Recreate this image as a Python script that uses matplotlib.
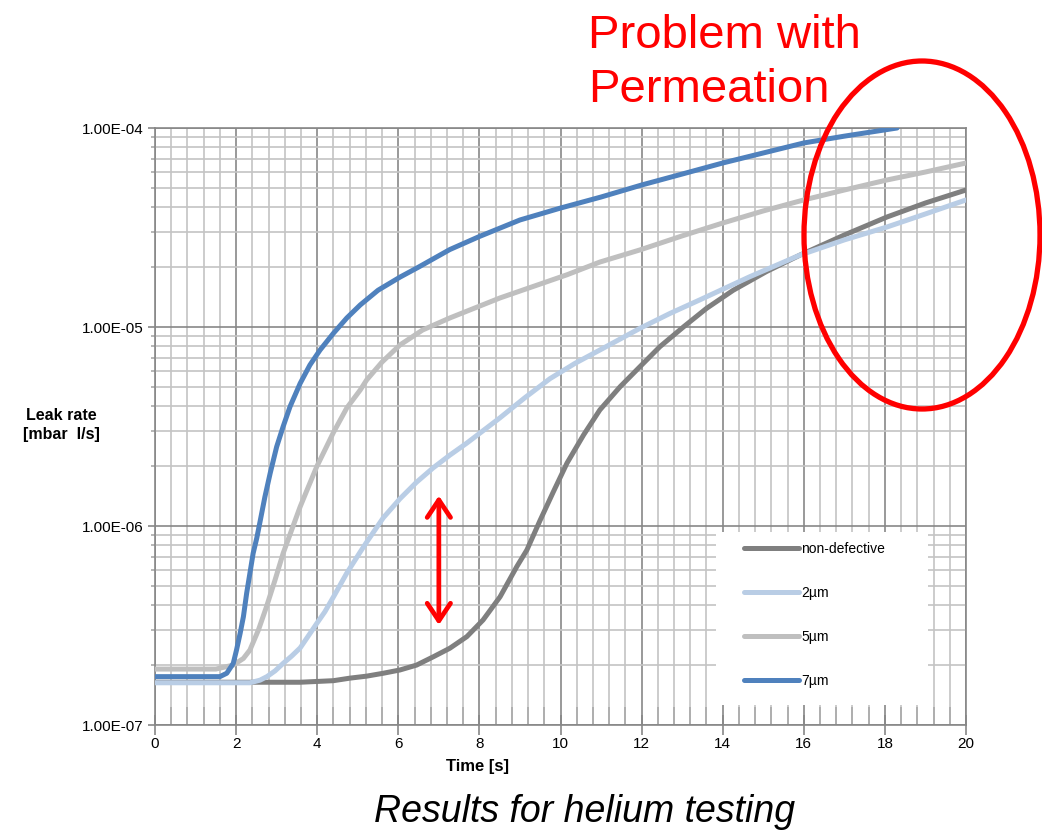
import matplotlib
matplotlib.use("Agg")
import matplotlib.pyplot as plt
from matplotlib.ticker import MultipleLocator, LogLocator, FuncFormatter, NullFormatter
from matplotlib.patches import Ellipse, Rectangle

plt.rcParams['font.family'] = ['Liberation Sans', 'DejaVu Sans']

# ---- data ----
x_nondef = [0, 2, 3.58, 4.40, 4.81, 5.22, 5.63, 6.04, 6.45, 6.86, 7.27, 7.69, 8.09, 8.51,
            8.92, 9.17, 9.49, 9.82, 10.16, 10.57, 10.97, 11.47, 11.96, 12.45, 13.03, 13.6,
            14.26, 15.08, 15.91, 17.0, 18.05, 19.0, 20]
y_nondef = [1.64e-7, 1.64e-7, 1.64e-7, 1.67e-7, 1.72e-7, 1.76e-7, 1.82e-7, 1.89e-7, 2.00e-7,
            2.20e-7, 2.43e-7, 2.78e-7, 3.37e-7, 4.41e-7, 6.24e-7, 7.57e-7, 1.06e-6, 1.48e-6,
            2.07e-6, 2.87e-6, 3.83e-6, 5.01e-6, 6.32e-6, 7.96e-6, 1.00e-5, 1.24e-5, 1.53e-5,
            1.90e-5, 2.30e-5, 2.90e-5, 3.57e-5, 4.20e-5, 4.88e-5]

x_2um = [0, 2.34, 2.59, 2.76, 2.96, 3.16, 3.37, 3.58, 3.78, 3.99, 4.19, 4.40, 4.73, 5.06,
         5.22, 5.63, 6.04, 6.45, 6.86, 7.27, 7.69, 8.51, 9.12, 9.74, 10.36, 10.97, 11.96,
         12.7, 13.44, 14.67, 15.91, 17.0, 18.05, 19.0, 20]
y_2um = [1.63e-7, 1.63e-7, 1.68e-7, 1.75e-7, 1.87e-7, 2.04e-7, 2.22e-7, 2.44e-7, 2.80e-7,
         3.24e-7, 3.71e-7, 4.40e-7, 5.80e-7, 7.40e-7, 8.30e-7, 1.10e-6, 1.37e-6, 1.66e-6,
         1.96e-6, 2.27e-6, 2.61e-6, 3.50e-6, 4.41e-6, 5.50e-6, 6.57e-6, 7.66e-6, 9.85e-6,
         1.17e-5, 1.37e-5, 1.79e-5, 2.30e-5, 2.74e-5, 3.18e-5, 3.70e-5, 4.35e-5]

x_5um = [0, 1.5, 1.93, 2.18, 2.34, 2.55, 2.75, 2.96, 3.16, 3.37, 3.58, 3.78, 3.99, 4.19,
         4.40, 4.73, 5.06, 5.22, 5.6, 6.04, 6.6, 7.27, 8.51, 10.16, 10.97, 11.96, 13.0,
         14.0, 15.0, 16.0, 17.0, 18.05, 19.0, 20]
y_5um = [1.91e-7, 1.91e-7, 2.00e-7, 2.16e-7, 2.38e-7, 3.00e-7, 3.93e-7, 5.35e-7, 7.29e-7,
         9.55e-7, 1.25e-6, 1.57e-6, 1.99e-6, 2.41e-6, 2.95e-6, 3.92e-6, 4.82e-6, 5.42e-6,
         6.67e-6, 8.12e-6, 9.66e-6, 1.11e-5, 1.40e-5, 1.83e-5, 2.12e-5, 2.44e-5, 2.87e-5,
         3.33e-5, 3.83e-5, 4.35e-5, 4.88e-5, 5.48e-5, 6.01e-5, 6.67e-5]

x_7um = [0, 1.60, 1.77, 1.93, 2.01, 2.10, 2.18, 2.26, 2.34, 2.42, 2.51, 2.59, 2.71, 2.84,
         3.00, 3.16, 3.33, 3.58, 3.82, 4.07, 4.40, 4.73, 5.06, 5.5, 6.04, 6.5, 7.27, 8.0,
         9.0, 10.0, 11.0, 12.0, 13.0, 14.0, 15.0, 16.0, 17.0, 18.3]
y_7um = [1.75e-7, 1.75e-7, 1.82e-7, 2.04e-7, 2.38e-7, 2.89e-7, 3.50e-7, 4.59e-7, 5.78e-7,
         7.29e-7, 8.70e-7, 1.05e-6, 1.40e-6, 1.84e-6, 2.50e-6, 3.16e-6, 3.98e-6, 5.21e-6,
         6.44e-6, 7.66e-6, 9.30e-6, 1.11e-5, 1.29e-5, 1.53e-5, 1.78e-5, 2.00e-5, 2.45e-5,
         2.85e-5, 3.45e-5, 3.96e-5, 4.50e-5, 5.17e-5, 5.87e-5, 6.67e-5, 7.49e-5, 8.41e-5,
         9.10e-5, 1.00e-4]

series_labels = ["non-defective", "2\u00b5m", "5\u00b5m", "7\u00b5m"]
series_colors = ["#7f7f7f", "#b9cde5", "#bfbfbf", "#4f81bd"]

x_ticks = [0, 2, 4, 6, 8, 10, 12, 14, 16, 18, 20]
y_ticks = [1e-7, 1e-6, 1e-5, 1e-4]

# ---- figure ----
W, H = 1042, 832
fig = plt.figure(figsize=(W / 100, H / 100), dpi=100)
L, R, T, B = 155, 966, 128, 725
ax = fig.add_axes([L / W, 1 - B / H, (R - L) / W, (B - T) / H])

ax.set_yscale('log')
ax.set_xlim(0, 20)
ax.set_ylim(1e-7, 1e-4)

ax.set_xticks(x_ticks)
ax.xaxis.set_minor_locator(MultipleLocator(0.4))
ax.set_yticks(y_ticks)
ax.yaxis.set_minor_locator(LogLocator(base=10, subs=range(2, 10)))
ax.yaxis.set_minor_formatter(NullFormatter())
ax.yaxis.set_major_formatter(FuncFormatter(lambda v, p: f"{v:.2E}"))

ax.grid(True, which='major', color='#878787', lw=1.2)
ax.grid(True, which='minor', color='#c4c4c4', lw=1.2)
ax.set_axisbelow(True)

for s in ax.spines.values():
    s.set_color('#878787')
    s.set_linewidth(1.2)

ax.tick_params(axis='x', which='major', direction='inout', length=14, width=1.2,
               color='#878787', labelsize=11, pad=2)
ax.tick_params(axis='x', which='minor', direction='in', length=13, width=1.2, color='#aaaaaa')
ax.tick_params(axis='y', which='major', direction='out', length=5, width=1.2,
               color='#878787', labelsize=11, pad=3)
ax.tick_params(axis='y', which='minor', direction='out', length=3, width=1.2, color='#aaaaaa')

# legend background box (covers grid)
ax.add_patch(Rectangle((0.692, 0.034), 0.261, 0.289, transform=ax.transAxes,
                       facecolor='white', edgecolor='none', zorder=1.8))

xs = [x_nondef, x_2um, x_5um, x_7um]
ys = [y_nondef, y_2um, y_5um, y_7um]
handles = []
for xv, yv, lab, col in zip(xs, ys, series_labels, series_colors):
    h, = ax.plot(xv, yv, color=col, lw=3.6, label=lab, solid_capstyle='round',
                 solid_joinstyle='round', zorder=3)
    handles.append(h)

leg = ax.legend(handles=handles, loc='upper left', bbox_to_anchor=(0.726, 0.306),
                frameon=False, fontsize=10, handlelength=3.95, handletextpad=0.2,
                labelspacing=2.15, borderpad=0, borderaxespad=0)

# red double arrow
ax.annotate('', xy=(7, 1.42e-6), xytext=(7, 3.18e-7),
            arrowprops=dict(arrowstyle='<->, head_length=0.45, head_width=0.3', color='red',
                            lw=3.4, mutation_scale=28, shrinkA=0, shrinkB=0), zorder=5)

# axis labels
fig.text(478 / W, 1 - 767 / H, "Time [s]", ha='center', va='center',
         fontsize=12, fontweight='bold')
fig.text(61 / W, 1 - 425 / H, "Leak rate\n[mbar  l/s]", ha='center', va='center',
         fontsize=11.5, fontweight='bold', multialignment='center', linespacing=1.4)

# annotation text and ellipse
fig.text(588 / W, 1 - 63 / H, "Problem with\nPermeation", ha='left', va='center',
         fontsize=34, color='#ff0000', linespacing=1.3)
fig.add_artist(Ellipse((922 / W, 1 - 235 / H), 236 / W, 348 / H, transform=fig.transFigure,
                       facecolor='none', edgecolor='#ff0000', lw=3.8, zorder=10))

fig.text(585 / W, 1 - 812 / H, "Results for helium testing", ha='center', va='center',
         fontsize=27, style='italic')

fig.savefig("out.png", dpi=100)
